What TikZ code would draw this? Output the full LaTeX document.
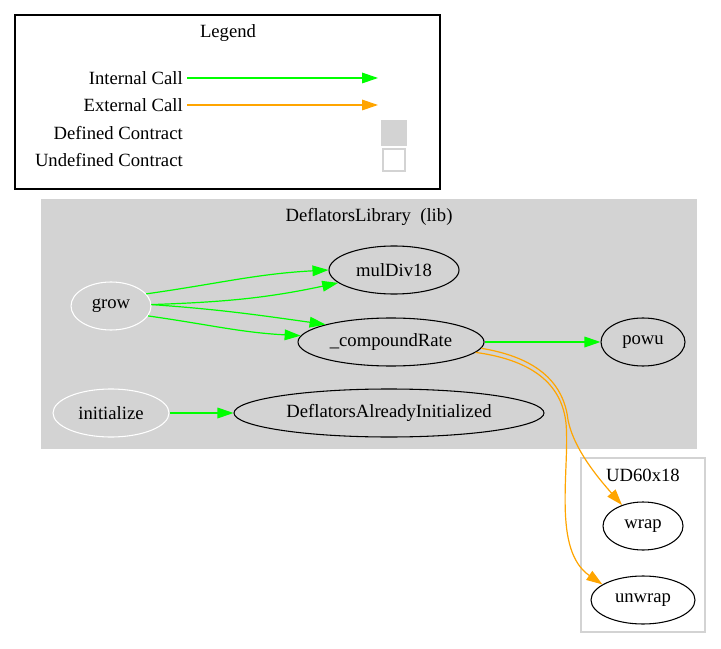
\documentclass[tikz,border=0pt]{standalone}
\usepackage{fontspec}
\setmainfont{Liberation Serif}
\usetikzlibrary{arrows.meta,shapes.geometric,positioning}
\definecolor{gvgreen}{RGB}{0,255,0}
\definecolor{gvorange}{RGB}{255,165,0}
\definecolor{gvgray}{RGB}{211,211,211}

\begin{document}
\begin{tikzpicture}[
  x=0.75pt,y=-0.75pt,
  font=\fontsize{14}{16}\selectfont,
  fn/.style={draw,ellipse,inner sep=0pt,minimum height=36pt,line width=0.8pt},
  own/.style={fn,draw=white},
  cluster/.style={draw=gvgray,line width=0.8pt,fill=#1},
  txt/.style={inner sep=0pt},
  icall/.style={-{Triangle[length=12pt,width=8pt]},gvgreen,line width=0.9pt},
  ecall/.style={-{Triangle[length=12pt,width=8pt]},gvorange,line width=0.9pt}
]
  \useasboundingbox (0,0) rectangle (721,649);

  % legend
  \draw[line width=1pt] (15,15) rectangle (440,189);
  \node[txt] (legend) at (228,33) {Legend};
  \node[txt,anchor=east] (lint) at (183,78) {Internal Call};
  \node[txt,anchor=east] (lext) at (183,105) {External Call};
  \node[txt,anchor=east] (ldef) at (183,133) {Defined Contract};
  \node[txt,anchor=east] (lund) at (183,160) {Undefined Contract};
  \coordinate (lintend) at (378,78);
  \coordinate (lextend) at (378,105);
  \draw[icall] ([xshift=3pt]lint.east) -- (lintend);
  \draw[ecall] ([xshift=3pt]lext.east) -- (lextend);
  \node[fill=gvgray,minimum size=19.5pt,inner sep=0pt] (sqdef) at (394,133) {};
  \node[draw=gvgray,fill=white,minimum size=16.5pt,inner sep=0pt,line width=0.8pt] (sqund) at (394,160) {};

  % clusters
  \draw[cluster=gvgray] (42,200) rectangle (696,448);
  \node[txt] (libname) at (369,217) {DeflatorsLibrary\ \ (lib)};
  \draw[cluster=white] (581,458) rectangle (705,632);
  \node[txt] (udname) at (643,475) {UD60x18};

  % functions
  \node[own,minimum width=60pt] (grow) at (111,306) {grow};
  \node[own,minimum width=87pt] (init) at (111,413) {initialize};
  \node[fn,minimum width=97.5pt] (mul) at (394,270) {mulDiv18};
  \node[fn,minimum width=139.5pt] (comp) at (391,342) {\_compoundRate};
  \node[fn,minimum width=63pt] (powu) at (643,342) {powu};
  \node[fn,minimum width=232.5pt] (dai) at (389,413) {DeflatorsAlreadyInitialized};
  \node[fn,minimum width=60pt] (wrap) at (643,526) {wrap};
  \node[fn,minimum width=78pt] (unwrap) at (643,600) {unwrap};

  % calls
  \draw[icall] (grow.19) to[out=8,in=183] (mul.west);
  \draw[icall] (grow.2) to[out=2,in=192] (mul.193);
  \draw[icall] (grow.2) to[out=-4,in=172] (comp.165);
  \draw[icall] (grow.-15) to[out=-8,in=177] (comp.176);
  \draw[icall] (comp.east) -- (powu.west);
  \draw[icall] (init.east) -- (dai.west);
  \draw[ecall] (comp.-4) .. controls (540,358) and (564,385) .. (568,420)
    .. controls (574,450) and (600,480) .. (wrap.135);
  \draw[ecall] (comp.-7) .. controls (538,361) and (562,388) .. (566,423)
    .. controls (570,470) and (552,550) .. (unwrap.159);
\end{tikzpicture}
\end{document}
